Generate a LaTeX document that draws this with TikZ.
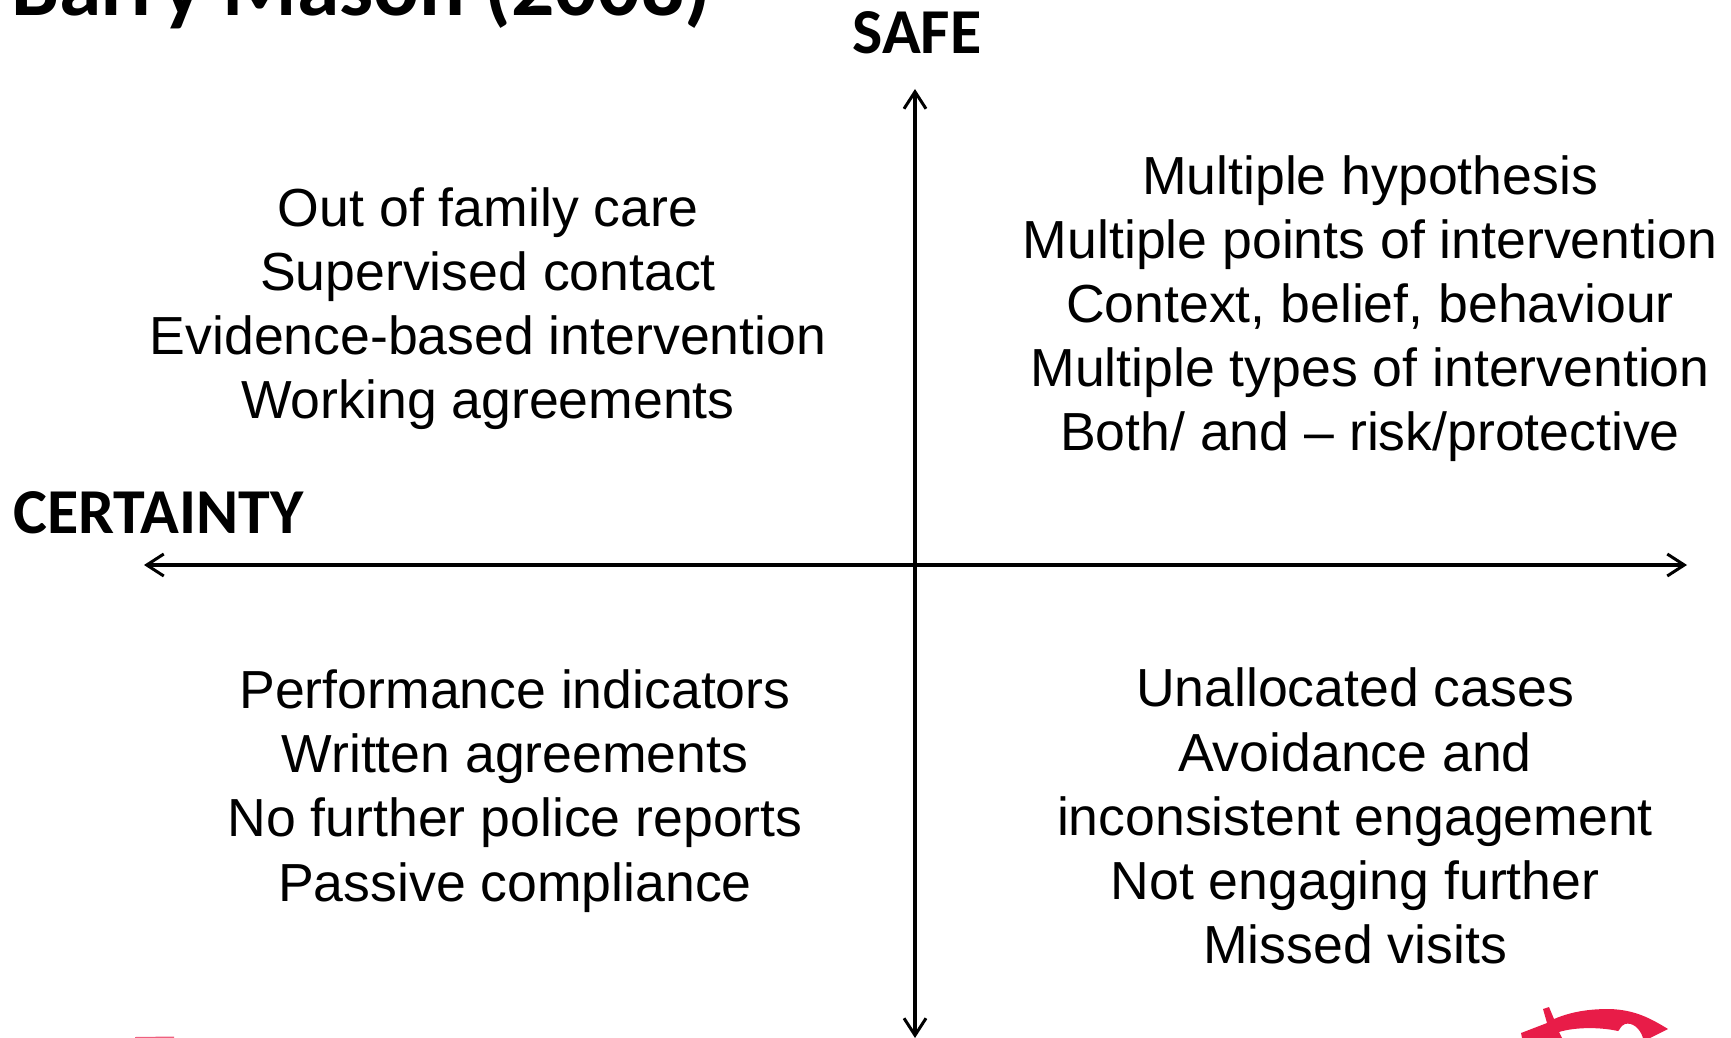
\documentclass[tikz,border=0pt]{standalone}
\usepackage{fontspec}
\setmainfont{Liberation Sans}
\newfontfamily\headfont{Carlito}
\usetikzlibrary{arrows.meta}
\definecolor{logored}{RGB}{232,28,72}
\tikzset{
  x=1pt,y=-1pt,
  axis/.style={draw=black,line width=3.4pt,{Straight Barb[length=17pt,width=22pt,line width=3pt]}-{Straight Barb[length=17pt,width=22pt,line width=3pt]}},
  body/.style={align=center,inner sep=0pt,font=\fontsize{53.6}{64.1}\selectfont},
  head/.style={inner sep=0pt,font=\headfont\bfseries\fontsize{64}{68}\selectfont},
  titletext/.style={inner sep=0pt,anchor=base west,font=\headfont\bfseries\fontsize{85.5}{88}\selectfont},
  logo/.style={fill=logored,draw=none}
}
\begin{document}
\begin{tikzpicture}
\useasboundingbox (0,0) rectangle (1731,1038);
\clip (0,0) rectangle (1731,1038);
\node[titletext] (title) at (11,16) {Barry Mason (2008)};
\node[head] (safe) at (917,33) {SAFE};
\node[head,anchor=west] (certainty) at (13,513) {CERTAINTY};
\coordinate (top) at (915,89);
\coordinate (bottom) at (915,1038);
\coordinate (left) at (144,565);
\coordinate (right) at (1687,565);
\draw[axis] (bottom) -- (top);
\draw[axis] (left) -- (right);
\node[body] (tl) at (488,308.5) {Out of family care\\Supervised contact\\Evidence-based intervention\\Working agreements};
\node[body] (tr) at (1370,308.5) {Multiple hypothesis\\Multiple points of intervention\\Context, belief, behaviour\\Multiple types of intervention\\Both/ and -- risk/protective};
\node[body] (bl) at (515,791) {Performance indicators\\Written agreements\\No further police reports\\Passive compliance};
\node[body] (br) at (1355,816) {Unallocated cases\\Avoidance and\\inconsistent engagement\\Not engaging further\\Missed visits};
\fill[logo] (1521,1033) -- (1547,1023) -- (1543,1009) -- (1549,1007) -- (1554,1019)
  .. controls (1575,1010) and (1595,1009) .. (1610,1009)
  .. controls (1635,1010) and (1650,1018) .. (1668,1029)
  -- (1650,1038) -- (1643,1038)
  .. controls (1640,1028) and (1632,1022) .. (1625,1024)
  .. controls (1620,1026) and (1620,1030) .. (1618,1031)
  .. controls (1600,1027) and (1575,1027) .. (1559,1032)
  -- (1562,1038) -- (1522,1038) -- cycle;
\fill[logored!70] (135,1037) -- (174,1036.5) -- (174,1038) -- (135,1038) -- cycle;
\end{tikzpicture}
\end{document}
